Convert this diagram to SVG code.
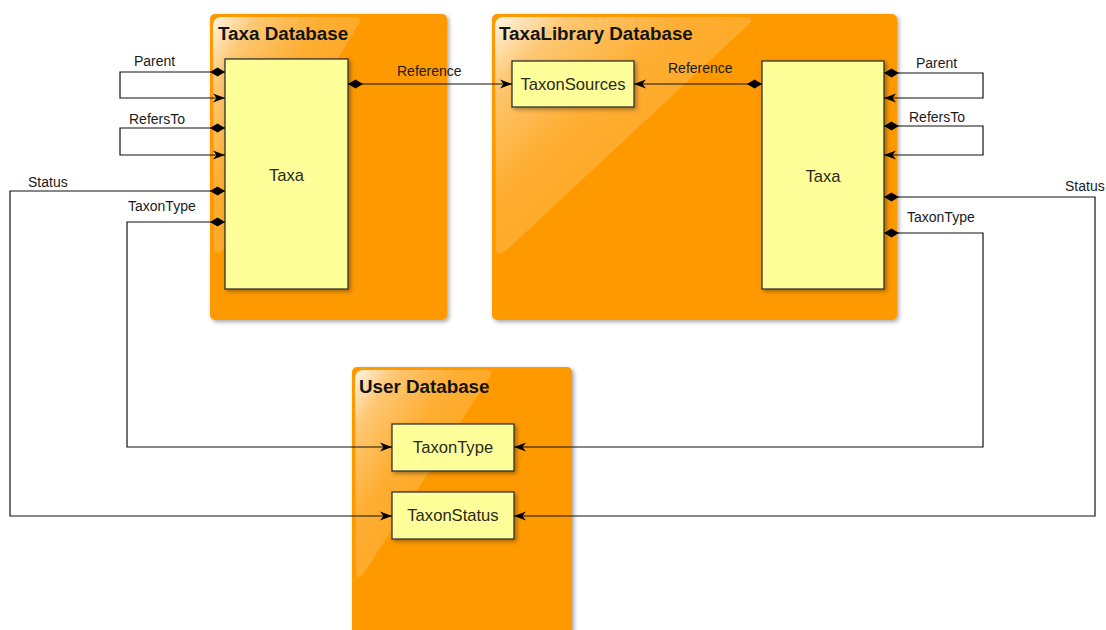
<svg xmlns="http://www.w3.org/2000/svg" width="1106" height="630" viewBox="0 0 1106 630">
  <style>
    .db { fill: #FE9A00; }
    .db-title { font-family: "Liberation Sans", Arial, sans-serif; font-weight: bold; font-size: 18.8px; fill: #141414; }
    .node { fill: #FFFF99; stroke: #333; stroke-width: 1.3; }
    .node-text { font-family: "Liberation Sans", Arial, sans-serif; font-size: 16.6px; fill: #2a2a1a; text-anchor: middle; }
    .edge { fill: none; stroke: #111; stroke-width: 1.2; }
    .lbl { font-family: "Liberation Sans", Arial, sans-serif; font-size: 14px; fill: #1a1a1a; }
    .gloss { fill: url(#gloss); }
  </style>
  <defs>
    <linearGradient id="gloss" x1="0" y1="0" x2="0.75" y2="0.75">
      <stop offset="0" stop-color="#fff" stop-opacity="0.9"/>
      <stop offset="0.2" stop-color="#fff" stop-opacity="0.45"/>
      <stop offset="0.5" stop-color="#fff" stop-opacity="0.2"/>
      <stop offset="1" stop-color="#fff" stop-opacity="0.1"/>
    </linearGradient>
    <filter id="shadow" x="-10%" y="-10%" width="130%" height="130%">
      <feDropShadow dx="2" dy="2" stdDeviation="2" flood-color="#000" flood-opacity="0.35"/>
    </filter>
    <marker id="diamond" viewBox="0 -5 15 10" refX="0" refY="0" markerWidth="15" markerHeight="10" markerUnits="userSpaceOnUse" orient="auto">
      <path d="M0,0 L7.5,-4.5 L15,0 L7.5,4.5 Z" fill="#000"/>
    </marker>
    <marker id="arrow" viewBox="0 -5 12 10" refX="12" refY="0" markerWidth="12" markerHeight="10" markerUnits="userSpaceOnUse" orient="auto">
      <path d="M0,-4.5 L12,0 L0,4.5 L3.5,0 Z" fill="#000"/>
    </marker>
  </defs>

  <rect width="1106" height="630" fill="#fff"/>

  <!-- Taxa Database -->
  <g id="taxa-db">
    <rect class="db" x="210" y="14" width="237" height="306" rx="5" filter="url(#shadow)"/>
    <path class="gloss" d="M213,26 Q213,17 222,17 H354 Q364,17 358,25 L226,246 Q218,258 214,250 Z"/>
    <text class="db-title" x="218" y="40">Taxa Database</text>
  </g>

  <!-- TaxaLibrary Database -->
  <g id="taxalibrary-db">
    <rect class="db" x="492" y="14" width="405" height="306" rx="5" filter="url(#shadow)"/>
    <path class="gloss" d="M495,26 Q495,17 504,17 H744 Q756,17 748,25 L510,247 Q498,258 496,250 Z"/>
    <text class="db-title" x="499" y="40">TaxaLibrary Database</text>
  </g>

  <!-- User Database -->
  <g id="user-db">
    <rect class="db" x="352" y="367" width="220" height="275" rx="5" filter="url(#shadow)"/>
    <path class="gloss" d="M355,379 Q355,370 364,370 H484 Q495,370 489,378 L366,570 Q358,582 356,574 Z"/>
    <text class="db-title" x="359" y="393">User Database</text>
  </g>

  <!-- Tables -->
  <g id="taxa-left">
    <rect class="node" x="225" y="59" width="123" height="230" filter="url(#shadow)"/>
    <text class="node-text" x="286.5" y="181">Taxa</text>
  </g>
  <g id="taxonsources">
    <rect class="node" x="512" y="61" width="122" height="46" filter="url(#shadow)"/>
    <text class="node-text" x="573" y="90">TaxonSources</text>
  </g>
  <g id="taxa-right">
    <rect class="node" x="762" y="61" width="122" height="228" filter="url(#shadow)"/>
    <text class="node-text" x="823" y="182">Taxa</text>
  </g>
  <g id="taxontype">
    <rect class="node" x="392" y="424" width="122" height="47" filter="url(#shadow)"/>
    <text class="node-text" x="453" y="453">TaxonType</text>
  </g>
  <g id="taxonstatus">
    <rect class="node" x="392" y="492" width="122" height="47" filter="url(#shadow)"/>
    <text class="node-text" x="453" y="521">TaxonStatus</text>
  </g>

  <!-- Relations -->
  <g id="connectors">
    <path class="edge" d="M225,72 H120 V98 H225" marker-start="url(#diamond)" marker-end="url(#arrow)"/>
    <path class="edge" d="M225,128 H120 V155 H225" marker-start="url(#diamond)" marker-end="url(#arrow)"/>
    <path class="edge" d="M225,191 H10 V516 H392" marker-start="url(#diamond)" marker-end="url(#arrow)"/>
    <path class="edge" d="M225,222 H127 V447 H392" marker-start="url(#diamond)" marker-end="url(#arrow)"/>
    <path class="edge" d="M348,84 H512" marker-start="url(#diamond)" marker-end="url(#arrow)"/>
    <path class="edge" d="M762,84 H634" marker-start="url(#diamond)" marker-end="url(#arrow)"/>
    <path class="edge" d="M884,73 H983 V98 H884" marker-start="url(#diamond)" marker-end="url(#arrow)"/>
    <path class="edge" d="M884,126 H983 V155 H884" marker-start="url(#diamond)" marker-end="url(#arrow)"/>
    <path class="edge" d="M884,197 H1095 V516 H514" marker-start="url(#diamond)" marker-end="url(#arrow)"/>
    <path class="edge" d="M884,233 H983 V447 H514" marker-start="url(#diamond)" marker-end="url(#arrow)"/>

    <text class="lbl" x="134" y="66">Parent</text>
    <text class="lbl" x="129" y="124">RefersTo</text>
    <text class="lbl" x="28" y="187">Status</text>
    <text class="lbl" x="128" y="211">TaxonType</text>
    <text class="lbl" x="397" y="76">Reference</text>
    <text class="lbl" x="668" y="73">Reference</text>
    <text class="lbl" x="916" y="68">Parent</text>
    <text class="lbl" x="909" y="122">RefersTo</text>
    <text class="lbl" x="1065" y="191">Status</text>
    <text class="lbl" x="907" y="222">TaxonType</text>
  </g>
</svg>
